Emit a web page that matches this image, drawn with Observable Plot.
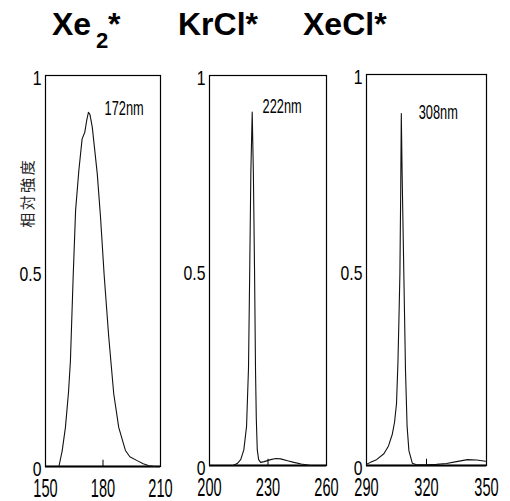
<!DOCTYPE html>
<html><head><meta charset="utf-8">
<script src="https://cdn.jsdelivr.net/npm/d3@7"></script>
<script src="https://cdn.jsdelivr.net/npm/@observablehq/plot@0.6"></script>
<style>
body{margin:0;background:#fff;}
#wrap{position:relative;width:510px;height:501px;overflow:hidden;background:#fff;}
.t{position:absolute;font-family:"Liberation Sans",Arial,sans-serif;font-weight:bold;color:#000;white-space:nowrap;}
.panel{position:absolute;top:60px;}
</style></head><body>
<div id="wrap"></div>
<script>
// ---- data ----
const xe2Wavelength = [157, 158.7, 160.4, 162, 163, 164.4, 165.7, 167.4, 169.1, 170.5, 171.5, 172.4, 173.2, 174.4, 177, 178.7, 180.6, 183, 185.6, 188.2, 191.7, 194, 197.8, 201, 204, 207];
const xe2Intensity  = [0, 0.04, 0.10, 0.19, 0.27, 0.48, 0.655, 0.757, 0.838, 0.855, 0.885, 0.906, 0.9, 0.868, 0.749, 0.638, 0.49, 0.331, 0.186, 0.10, 0.041, 0.025, 0.015, 0.007, 0.002, 0];

const krclWavelength = [212, 214.2, 216, 217.6, 219, 220, 220.6, 221.2, 221.9, 222.5, 223.1, 223.6, 224, 224.5, 225.2, 226.2, 228, 231.4, 234, 236.5, 240, 243.3, 247, 252];
const krclIntensity  = [0, 0.005, 0.015, 0.04, 0.1, 0.25, 0.49, 0.75, 0.906, 0.75, 0.5, 0.244, 0.12, 0.04, 0.015, 0.008, 0.01, 0.015, 0.018, 0.017, 0.012, 0.008, 0.004, 0];

const xeclWavelength = [290, 292, 295, 298.7, 301, 302.9, 304, 305, 305.7, 306.2, 306.7, 307.1, 307.4, 307.8, 308.3, 308.7, 309.5, 310.3, 311.2, 312.9, 315, 320, 325, 330, 335, 340.5, 345, 349.5];
const xeclIntensity  = [0.003, 0.008, 0.015, 0.03, 0.05, 0.08, 0.11, 0.158, 0.26, 0.37, 0.49, 0.7, 0.9, 0.75, 0.6, 0.48, 0.243, 0.1, 0.038, 0.006, 0.002, 0.002, 0.003, 0.005, 0.01, 0.015, 0.014, 0.011];

const xe2Ticks = [150, 180, 210];
const krclTicks = [200, 230, 260];
const xeclTicks = [290, 320, 350];
const yTicks = [0, 0.5, 1];
const peakLabels = ["172nm", "222nm", "308nm"];
const peakLabelX = [180.8, 227.2, 316.1];
const peakLabelY = [0.916, 0.92, 0.904];
const yAxisLabel = "相対強度";

// ---- titles ----
const wrap = document.getElementById("wrap");
function addText(txt, left, top, size) {
  const d = document.createElement("div");
  d.className = "t";
  d.textContent = txt;
  d.style.left = left + "px";
  d.style.top = top + "px";
  d.style.fontSize = size + "px";
  d.style.lineHeight = size + "px";
  wrap.appendChild(d);
}
addText("Xe", 52, 8, 32);
addText("2", 96, 29.5, 22);
addText("*", 108, 8, 32);
addText("KrCl*", 178, 8, 32);
addText("XeCl*", 303, 8, 32);

// ---- panels ----
const panels = [
  {wl: xe2Wavelength, it: xe2Intensity, dom: [150, 210], ticks: xe2Ticks, k: 0, left: 0, mL: 45, mR: 10, mT: 15, mB: 35, ylab: true},
  {wl: krclWavelength, it: krclIntensity, dom: [200, 260], ticks: krclTicks, k: 1, left: 170, mL: 39, mR: 14, mT: 15, mB: 36, ylab: false},
  {wl: xeclWavelength, it: xeclIntensity, dom: [290, 350], ticks: xeclTicks, k: 2, left: 340, mL: 26, mR: 24, mT: 14, mB: 36, ylab: false}
];

const FONT = "Liberation Sans, Arial, sans-serif";

function squeezeGroup(g, s, size) {
  g.setAttribute("font-size", size);
  g.querySelectorAll("text").forEach(t => {
    t.setAttribute("font-size", size);
    let tr = t.getAttribute("transform");
    if (!tr) {
      const x = t.getAttribute("x") || 0, y = t.getAttribute("y") || 0;
      t.removeAttribute("x"); t.removeAttribute("y");
      tr = `translate(${x},${y})`;
    }
    if (s !== 1) t.setAttribute("transform", tr + ` scale(${s},1)`);
  });
}

for (const p of panels) {
  const data = p.wl.map((w, i) => ({w, v: p.it[i]}));
  const marks = [
    Plot.frame({stroke: "#000", strokeWidth: 1.2}),
    Plot.ruleY([0], {stroke: "#000", strokeWidth: 2.2}),
    Plot.ruleX([p.ticks[1]], {y1: 0, y2: 0.016, stroke: "#000", strokeWidth: 1}),
    Plot.line(data, {x: "w", y: "v", stroke: "#111", strokeWidth: 1.1}),
    // x tick labels
    Plot.text(p.ticks, {x: d => d, frameAnchor: "bottom", lineAnchor: "top", dy: 12, text: d => String(d), fontSize: 26, fontFamily: FONT, fill: "#000"}),
    // y tick labels
    Plot.text(yTicks, {y: d => d, frameAnchor: "left", textAnchor: "end", dx: -4, dy: 3, text: d => String(d), fontSize: 21, fontFamily: FONT, fill: "#000"}),
    // peak label
    Plot.text([peakLabels[p.k]], {x: () => peakLabelX[p.k], y: () => peakLabelY[p.k], text: d => d, textAnchor: "start", fontSize: 21, fontFamily: FONT, fill: "#000"})
  ];
  if (p.ylab) {
    marks.push(Plot.text([yAxisLabel], {x: () => p.dom[0], y: () => 0.70, text: d => d, rotate: -90, dx: -17, fontSize: 15, fontFamily: "Noto Sans CJK JP", fill: "#222"}));
  }
  const svg = Plot.plot({
    width: 170,
    height: 441,
    marginLeft: p.mL, marginRight: p.mR, marginTop: p.mT, marginBottom: p.mB,
    x: {domain: p.dom, label: null, axis: null},
    y: {domain: [0, 1], label: null, axis: null},
    style: {background: "transparent", overflow: "visible"},
    marks
  });
  svg.classList.add("panel");
  svg.style.left = p.left + "px";
  svg.style.top = "60px";
  svg.style.position = "absolute";
  const groups = svg.querySelectorAll('g[aria-label="text"]');
  squeezeGroup(groups[0], 0.56, 26);
  squeezeGroup(groups[1], 0.75, 21);
  squeezeGroup(groups[2], 0.61, 21);
  if (groups[3]) {
    groups[3].querySelectorAll("text").forEach(t => t.setAttribute("letter-spacing", "2.5"));
  }
  wrap.appendChild(svg);
}
</script>
</body></html>
